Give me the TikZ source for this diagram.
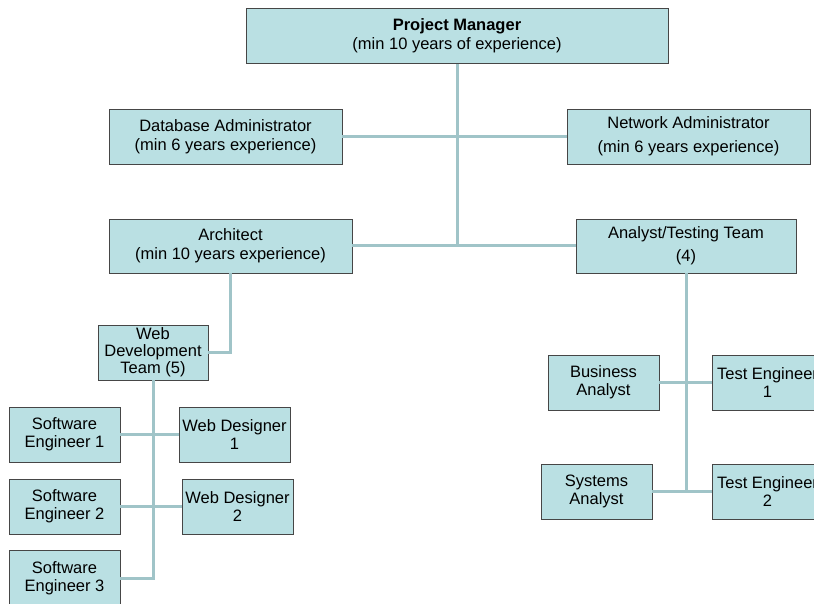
\documentclass[tikz,border=0pt]{standalone}
\usepackage{fontspec}
\setmainfont{Liberation Sans}
\definecolor{boxfill}{RGB}{186,224,227}
\definecolor{linkcol}{RGB}{160,196,200}
\definecolor{boxline}{RGB}{70,70,70}
\tikzset{
  orgbox/.style={draw=boxline, line width=0.9pt, fill=boxfill, rectangle, inner sep=0pt,
    align=center, font=\fontsize{16.5}{18}\selectfont},
  link/.style={draw=linkcol, line width=3pt}
}
\begin{document}
\begin{tikzpicture}[x=1pt,y=-1pt]
\useasboundingbox (0,0) rectangle (814,604);
% top level
\node[orgbox, minimum width=422pt, minimum height=55pt, font=\fontsize{16.5}{19}\selectfont] (pm) at (457,36) {\textbf{Project Manager}\\(min 10 years of experience)};
\node[orgbox, minimum width=233pt, minimum height=55pt, font=\fontsize{16.5}{19}\selectfont] (dba) at (225.5,136.5) {Database Administrator\\(min 6 years experience)};
\node[orgbox, minimum width=243pt, minimum height=55pt, font=\fontsize{16.5}{24}\selectfont] (na) at (688.5,136.5) {Network Administrator\\(min 6 years experience)};
\node[orgbox, minimum width=243pt, minimum height=54pt, font=\fontsize{16.5}{19}\selectfont] (arch) at (230.5,246) {Architect\\(min 10 years experience)};
\node[orgbox, minimum width=220pt, minimum height=54pt, font=\fontsize{16.5}{23}\selectfont] (att) at (686,246) {Analyst/Testing Team\\(4)};
% web development
\node[orgbox, minimum width=110pt, minimum height=55pt, font=\fontsize{16.5}{17}\selectfont] (wdt) at (153,352.5) {Web\\Development\\Team (5)};
\node[orgbox, minimum width=111pt, minimum height=55pt] (se1) at (64.5,434.5) {Software\\Engineer 1};
\node[orgbox, minimum width=111pt, minimum height=55pt] (wd1) at (234.5,434.5) {Web Designer\\1};
\node[orgbox, minimum width=111pt, minimum height=55pt] (se2) at (64.5,506.5) {Software\\Engineer 2};
\node[orgbox, minimum width=111pt, minimum height=55pt] (wd2) at (237.5,506.5) {Web Designer\\2};
\node[orgbox, minimum width=111pt, minimum height=55pt] (se3) at (64.5,578) {Software\\Engineer 3};
% analyst/testing
\node[orgbox, minimum width=111pt, minimum height=55pt] (ba) at (603.5,382.5) {Business\\Analyst};
\node[orgbox, minimum width=111pt, minimum height=55pt] (te1) at (767.5,382.5) {Test Engineer\\1};
\node[orgbox, minimum width=111pt, minimum height=55pt] (sa) at (596.5,491.5) {Systems\\Analyst};
\node[orgbox, minimum width=111pt, minimum height=55pt] (te2) at (767.5,491.5) {Test Engineer\\2};
% connectors
\draw[link] (pm.south) -- (pm.south |- arch.east);
\draw[link] (dba.east) -- (na.west);
\draw[link] (arch.east) -- (att.west);
\draw[link] (arch.south) -- (arch.south |- wdt.east) -- (wdt.east);
\draw[link] (wdt.south) -- (wdt.south |- se3.east) -- (se3.east);
\draw[link] (se1.east) -- (wd1.west);
\draw[link] (se2.east) -- (wd2.west);
\draw[link] (att.south) -- (att.south |- sa.east);
\draw[link] (ba.east) -- (te1.west);
\draw[link] (sa.east) -- (te2.west);
\end{tikzpicture}
\end{document}
